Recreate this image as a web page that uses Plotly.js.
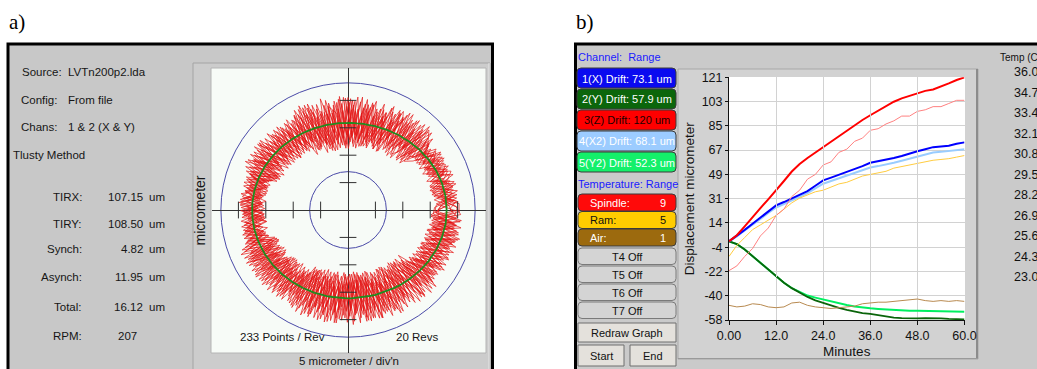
<!DOCTYPE html>
<html><head><meta charset="utf-8">
<script src="https://cdn.plot.ly/plotly-3.0.1.min.js"></script>
<style>html,body{margin:0;padding:0;background:#fff;}#chart{width:1037px;height:369px;}</style>
</head><body><div id="chart"></div>
<script>
// ---------------- DATA ----------------
// Panel a) run-out statistics
const infoLabels = ['Source:', 'Config:', 'Chans:'];
const infoValues = ['LVTn200p2.lda', 'From file', '1 & 2 (X & Y)'];
const methodName = 'Tlusty Method';
const statLabels = ['TIRX:', 'TIRY:', 'Synch:', 'Asynch:', 'Total:', 'RPM:'];
const statValues = ['107.15', '108.50', '4.82', '11.95', '16.12', '207'];
const statUnits  = ['um', 'um', 'um', 'um', 'um', ''];
const pointsPerRevText = '233 Points / Rev';
const revsText = '20 Revs';

// polar trace (micrometer): mean orbit radius every 4 degrees (0..356)
const meanRadius = [
 18.00,17.95,17.97,17.86,17.84,17.69,17.62,17.44,17.35,17.15,17.06,16.86,16.77,16.58,16.50,16.33,16.27,16.12,16.09,15.97,15.97,15.89,15.92,
 15.88,15.93,15.92,16.00,16.01,16.12,16.15,16.28,16.33,16.47,16.54,16.69,16.76,16.91,16.98,17.13,17.18,17.31,17.34,17.44,17.44,17.51,17.48,
 17.50,17.45,17.45,17.36,17.34,17.22,17.18,17.05,17.00,16.86,16.80,16.66,16.61,16.48,16.44,16.32,16.30,16.20,16.19,16.12,16.13,16.09,
 16.12,16.10,16.17,16.17,16.28,16.31,16.44,16.50,16.65,16.73,16.89,16.98,17.16,17.25,17.42,17.50,17.66,17.72,17.85,17.88,17.98,17.97
];
// raw revolutions: deviation from the mean orbit (micrometer), same angles
const revA = [1.2,-1.8,2.1,-0.6,1.5,-2.4,0.9,-1.3,2.6,-1.9, 3.1,-2.7,4.2,-1.5,2.8,-3.6,1.9,-4.1,3.3,-2.2, 4.5,-3.0,2.4,-4.6,3.8,-1.7,4.9,-3.3,2.1,-3.9, 3.4,-2.5,1.6,-3.7,2.9,-1.4,3.5,-2.8,2.2,-3.0, 1.8,-2.2,1.1,-1.6,2.4,-0.8,1.9,-2.5,1.3,-1.7, 2.6,-3.4,3.0,-1.9,3.8,-2.7,1.5,-3.5,2.9,-2.1, 4.1,-3.6,2.7,-4.8,3.2,-2.0,4.6,-3.9,1.8,-4.3, 3.7,-2.4,4.4,-3.1,2.0,-4.5,3.6,-1.8,4.0,-3.3, 2.8,-2.1,3.3,-1.4,2.5,-2.9,1.7,-2.3,2.0,-1.5];
const revB = [-1.5,2.2,-0.8,1.7,-2.3,1.0,-1.9,2.5,-1.2,1.6, -2.9,3.5,-1.8,4.0,-3.2,2.3,-4.4,2.9,-2.0,3.8, -4.2,2.6,-3.5,4.7,-2.2,3.9,-4.8,1.9,-3.6,4.3, -2.6,3.6,-1.9,2.8,-3.4,1.7,-2.7,3.2,-1.5,2.4, -2.0,1.5,-2.3,0.9,-1.8,2.1,-1.0,1.7,-2.4,1.2, -3.1,2.4,-2.8,3.7,-1.6,3.0,-3.8,2.2,-2.6,3.4, -4.5,3.0,-2.3,4.4,-3.7,2.5,-4.0,3.6,-2.9,4.6, -3.2,4.1,-2.6,3.4,-4.3,2.1,-3.5,4.5,-2.2,3.0, -2.4,2.9,-1.6,2.2,-3.0,1.8,-2.5,2.7,-1.3,2.0];
const revC = [0.6,1.9,-1.4,-2.2,1.1,2.4,-0.7,1.5,-2.0,0.8, 2.2,3.9,-2.5,-3.8,1.4,4.3,-2.9,3.0,-1.6,-4.0, 3.6,-2.1,4.4,-4.1,1.8,3.3,-3.8,-2.4,4.6,-1.5, 2.0,-3.2,2.7,-1.1,3.6,-2.9,1.2,-3.3,2.5,-1.8, 1.4,-1.9,0.7,2.0,-1.5,1.6,-2.2,0.5,1.9,-1.1, 3.3,-1.8,2.5,-3.6,1.2,-2.8,3.9,-1.4,2.3,-3.5, 2.9,-4.2,4.0,-1.6,3.5,-4.7,2.2,-3.0,4.8,-2.6, 4.3,-3.5,1.7,-4.0,3.8,-2.6,2.9,-4.4,1.9,-3.7, 2.2,-1.9,2.7,-2.6,1.3,-1.7,2.9,-2.0,1.6,-2.8];
const revD = [-0.9,1.4,-2.1,1.8,-1.1,0.7,2.0,-1.6,1.3,-2.3, -3.5,2.0,-1.7,3.3,-4.0,3.7,-2.4,1.6,-3.1,4.1, -2.8,4.8,-3.1,2.3,-4.5,3.1,-2.0,4.2,-3.7,2.8, -3.0,2.1,-2.4,3.4,-1.3,2.6,-3.6,1.9,-2.9,3.1, -1.6,2.3,-1.2,1.4,-2.1,0.6,-1.7,2.2,-0.9,1.8, -2.4,3.6,-3.3,1.7,-2.6,3.9,-1.9,3.1,-3.6,2.0, -3.8,2.1,-4.6,3.3,-2.5,4.3,-3.1,2.4,-4.4,3.7, -4.1,2.8,-3.0,4.6,-1.9,3.5,-4.2,2.6,-3.4,4.0, -1.8,2.5,-2.9,1.6,-2.2,3.1,-1.4,2.3,-2.6,1.5];
const revE = [2.0,-0.5,1.3,-2.5,0.4,1.8,-1.6,2.3,-0.9,-1.8, 1.9,-3.3,3.6,-2.1,4.5,-1.3,3.4,-3.7,2.6,-2.8, 2.9,-4.3,3.7,-1.9,4.1,-3.4,2.7,-4.9,3.0,-2.3, 2.8,-1.6,3.1,-2.2,1.9,-3.5,2.4,-1.2,3.3,-2.6, 0.9,-2.1,1.7,-1.3,2.2,-1.9,0.8,-1.4,2.3,-2.0, 2.1,-2.9,3.5,-2.2,2.8,-3.7,1.6,-2.5,3.7,-1.6, 3.4,-2.7,4.5,-3.5,1.9,-4.1,3.8,-2.1,4.2,-3.2, 2.5,-4.6,3.3,-2.0,4.7,-3.1,2.1,-3.9,3.6,-2.5, 3.0,-1.2,2.0,-2.7,2.4,-1.5,3.2,-2.2,1.1,-2.4];
const revF = [-2.2,0.9,-1.0,2.4,-1.7,1.2,-2.5,0.6,1.9,-1.4, -2.3,4.4,-3.0,2.5,-1.9,3.8,-3.4,2.1,-4.3,3.2, -3.3,2.2,-4.7,3.6,-2.6,4.5,-3.2,2.9,-4.0,3.5, -1.8,2.9,-3.3,2.0,-2.7,3.7,-1.6,2.8,-3.4,1.6, -1.3,1.1,-2.2,1.9,-0.9,1.6,-2.3,1.3,-1.5,2.1, -3.4,2.3,-1.7,3.3,-3.0,2.0,-3.5,2.7,-1.8,3.6, -2.7,4.7,-3.4,2.6,-4.5,3.2,-2.3,4.4,-3.6,2.4, -3.6,2.3,-4.2,3.1,-2.4,4.3,-3.3,1.7,-4.5,2.9, -2.7,1.4,-2.3,3.0,-1.7,2.4,-3.0,1.5,-2.1,2.6];
const revG = [1.7,-0.8,2.3,-1.9,0.5,-1.2,1.9,-2.4,1.0,-0.6, 2.6,-4.2,1.8,-2.9,3.9,-1.6,4.4,-2.3,3.1,-3.7, 1.9,-3.7,4.6,-2.8,3.4,-4.9,2.2,-3.1,4.3,-2.0, 3.1,-1.7,2.4,-3.4,1.5,-2.3,3.7,-2.6,1.8,-3.2, 2.2,-1.3,1.6,-2.4,1.0,-1.7,2.1,-0.6,1.4,-2.2, 3.0,-2.2,1.4,-3.3,3.6,-2.4,2.7,-3.9,1.8,-2.7, 2.3,-4.4,3.9,-2.8,4.7,-3.3,1.6,-4.0,3.1,-4.6, 4.5,-2.9,3.8,-1.6,3.0,-4.1,4.2,-2.7,2.4,-4.6, 1.9,-3.0,2.4,-1.1,3.1,-2.2,1.5,-2.8,2.6,-1.9];
const revH = [-1.1,2.0,-2.4,1.3,-0.7,1.9,-1.5,0.9,-2.2,1.6, -4.3,2.8,-2.2,3.6,-2.7,4.2,-1.5,3.3,-3.9,2.4, -3.6,4.0,-2.5,4.9,-3.8,2.0,-4.4,3.6,-1.9,4.5, -2.2,3.3,-1.4,2.6,-3.6,2.2,-1.8,3.5,-2.8,2.0, -2.4,1.2,-1.5,2.3,-1.1,1.8,-2.0,0.9,-1.6,2.4, -2.7,3.1,-3.7,2.3,-1.5,3.4,-2.2,3.8,-3.0,1.6, -4.2,3.5,-2.1,4.6,-3.0,2.7,-4.7,3.9,-2.4,3.2, -2.6,4.4,-3.8,2.2,-4.6,3.0,-2.3,4.1,-3.6,2.7, -3.1,1.6,-2.0,2.8,-1.3,2.2,-2.9,1.8,-2.4,1.1];
const revI = [0.4,-2.1,1.6,-1.0,2.4,-1.8,1.1,-0.5,2.2,-1.3, 3.7,-1.9,2.4,-4.4,3.0,-2.6,4.0,-3.2,1.7,-4.1, 4.8,-2.3,3.0,-4.0,2.5,-3.6,4.1,-2.7,3.5,-4.6, 1.4,-2.8,3.5,-1.9,2.3,-3.1,2.9,-1.6,3.6,-2.4, 1.6,-2.3,0.8,-1.5,2.0,-2.2,1.5,-1.1,1.8,-0.7, 3.8,-1.5,2.9,-3.0,2.0,-3.8,3.2,-2.1,1.7,-3.1, 4.4,-3.0,2.5,-4.5,3.7,-2.2,4.0,-3.4,2.8,-4.1, 3.1,-4.3,2.6,-3.3,4.6,-1.9,3.5,-4.0,2.2,-3.0, 2.5,-1.6,3.1,-2.4,1.9,-3.0,2.2,-1.3,2.8,-2.1];
const revJ = [-1.9,1.1,-0.6,2.2,-2.0,1.5,-1.2,2.4,-0.8,1.9, -2.1,3.2,-4.5,2.7,-3.4,1.8,-3.0,4.3,-2.5,3.6, -4.6,3.3,-2.2,4.4,-3.0,3.7,-2.5,4.7,-4.1,2.1, -3.5,1.8,-2.7,3.0,-2.0,3.6,-2.5,1.4,-3.1,2.7, -1.0,2.2,-1.8,1.2,-2.3,1.5,-0.8,2.0,-1.9,1.0, -3.6,2.5,-2.0,3.6,-2.9,1.8,-3.3,2.4,-2.6,3.8, -3.1,4.2,-3.9,2.1,-4.2,4.6,-2.6,3.3,-4.8,2.6, -4.4,3.2,-2.1,4.0,-3.2,2.5,-4.6,3.6,-2.8,4.3, -2.2,2.9,-1.8,1.5,-2.6,2.6,-1.9,3.0,-1.4,2.3];
const revK = [2.3,-1.5,0.8,-2.3,1.7,-0.9,2.0,-1.4,0.7,-2.0, 1.5,-3.9,4.1,-2.5,3.2,-4.3,2.2,-2.9,4.4,-1.7, 3.9,-2.6,4.5,-3.5,2.0,-4.2,3.3,-2.1,4.9,-3.4, 2.6,-3.3,1.9,-2.6,3.3,-1.5,2.1,-3.7,1.7,-2.2, 2.0,-1.1,2.3,-1.8,0.7,-2.1,1.2,-1.6,2.2,-1.2, 1.9,-3.2,2.6,-1.8,3.4,-2.5,3.7,-1.7,2.5,-3.3, 3.6,-4.0,2.4,-3.2,4.5,-2.9,3.1,-4.4,2.3,-3.8, 4.1,-2.2,3.6,-4.4,2.8,-3.5,1.8,-4.2,4.5,-2.6, 2.7,-2.5,1.4,-2.9,2.2,-1.6,2.8,-2.4,1.9,-1.7];
const revL = [-0.7,1.7,-2.2,0.9,-1.5,2.3,-1.9,1.2,-0.8,2.1, -3.8,2.6,-2.0,4.5,-2.6,3.2,-4.2,1.9,-3.3,2.8, -2.4,4.2,-3.9,2.7,-4.8,2.4,-3.5,4.0,-2.3,3.8, -2.9,2.4,-3.6,1.7,-2.3,3.2,-1.9,2.6,-3.5,1.9, -1.8,1.6,-1.0,2.2,-1.4,0.8,-2.4,1.7,-1.1,1.5, -2.3,3.7,-2.8,2.1,-3.6,2.9,-1.7,3.4,-3.0,2.2, -4.1,2.9,-3.6,4.3,-2.2,3.7,-4.4,2.3,-3.3,4.5, -3.3,4.5,-2.4,3.8,-4.0,2.2,-3.7,4.4,-2.0,3.4, -2.6,2.0,-3.0,1.3,-2.4,2.7,-1.6,2.1,-2.8,1.7];
const gridCircles = [7.0, 23.2];          // micrometer
const crossTicks = [-20,-15,-10,-5,5,10,15,20]; // 5 micrometer / div'n

// Panel b) drift
const channelLabels = ['1(X) Drift: 73.1 um','2(Y) Drift: 57.9 um','3(Z) Drift: 120 um','4(X2) Drift: 68.1 um','5(Y2) Drift: 52.3 um'];
const tempNames  = ['Spindle:', 'Ram:', 'Air:'];
const tempRanges = ['9', '5', '1'];
const offChannels = ['T4 Off', 'T5 Off', 'T6 Off', 'T7 Off'];
const minutes = [0,2,4,6,8,10,12,14,16,18,20,22,24,26,28,30,32,34,36,38,40,42,44,46,48,50,52,54,56,58,60];
const driftX  = [0,4,8.5,13,17.5,22,26.5,29,31.5,34,37,41,45,47,49,51,53,55.5,58,59,60,61.5,63,65,66.5,68,69.5,70,70.5,72,73];
const driftY  = [0,-2,-6,-11,-16,-21,-26,-30.5,-34.5,-38,-41,-43.5,-45.5,-47.5,-49,-50.5,-52,-53,-53.5,-54.5,-55.5,-56.2,-56.6,-56.8,-56.8,-56.6,-56.5,-56.8,-57.2,-57.4,-57.5];
const driftZ  = [0,4.5,11,18,24.5,31,37.5,44.5,51.5,57,61.5,65.5,69.5,74,78,82,86,89.5,93,96.5,100,103,105.5,107.5,109.5,111,112,114,116.5,119,121];
const driftX2 = [0,3.6,8,12,16.5,21,25,27.5,30,32.5,35.5,39,42.5,44.5,46.5,48.5,50.5,52.5,54.5,55.5,56.5,58,59.5,61,62.5,64,65.5,66,66.5,67.5,68];
const driftY2 = [0,-2,-6,-11,-16,-21,-26,-30.5,-34.5,-37.5,-40,-41.5,-43,-44.5,-46,-47,-48,-48.8,-49.4,-49.8,-50.2,-50.6,-51,-51.1,-51.1,-51.2,-51.3,-51.4,-51.6,-51.8,-51.9];
const tempSpindle = [23.4,23.7,24.3,24.8,25.6,26.1,26.9,27.3,28.1,28.5,29.2,29.5,30.1,30.3,30.9,31.1,31.6,31.8,32.3,32.4,32.7,32.9,33.2,33.2,33.5,33.6,33.8,33.8,34.0,34.2,34.2];
const tempRam     = [24.3,25.0,25.5,26.0,26.3,26.6,26.9,27.3,27.7,28.0,28.2,28.4,28.5,28.7,28.9,29.0,29.2,29.4,29.5,29.6,29.7,29.9,30.0,30.1,30.2,30.3,30.4,30.45,30.5,30.6,30.7];
const tempAir     = [21.2,21.1,21.15,21.3,21.25,21.1,21.05,21.1,21.35,21.4,21.2,21.1,21.05,21.0,21.05,21.1,21.15,21.3,21.35,21.4,21.4,21.45,21.5,21.55,21.6,21.5,21.45,21.5,21.45,21.5,21.45];
const dispTickVals = [121,103.1,85.2,67.3,49.4,31.5,13.6,-4.3,-22.2,-40.1,-58];
const dispTickText = ['121','103','85','67','49','31','14','-4','-22','-40','-58'];
const minuteTickVals = [0,12,24,36,48,60];
const minuteTickText = ['0.00','12.0','24.0','36.0','48.0','60.0'];
const tempTickVals = [36.0,34.7,33.4,32.1,30.8,29.5,28.2,26.9,25.6,24.3,23.0];

// ---------------- HELPERS ----------------
const W = 1037, H = 369;
const FONT = 'Liberation Sans, Arial, sans-serif';
const px = v => v / W;
const py = v => 1 - v / H;
const shapes = [];
const annotations = [];
function rect(x0, y0, x1, y1, fill, lc, lw) {
  shapes.push({type:'rect', xref:'paper', yref:'paper', x0:px(x0), x1:px(x1), y0:py(y1), y1:py(y0),
    fillcolor:fill, line:{color:lc || 'rgba(0,0,0,0)', width:lw || 0}, layer:'below'});
}
function seg(x0, y0, x1, y1, c, w) {
  shapes.push({type:'line', xref:'paper', yref:'paper', x0:px(x0), x1:px(x1), y0:py(y0), y1:py(y1),
    line:{color:c, width:w}, layer:'below'});
}
function rrect(x0, y0, x1, y1, r, fill, lc, lw) {
  const X0 = px(x0), X1 = px(x1), YT = py(y0), YB = py(y1), rx = r / W, ry = r / H;
  const p = `M${X0+rx},${YT} L${X1-rx},${YT} Q${X1},${YT} ${X1},${YT-ry} L${X1},${YB+ry} Q${X1},${YB} ${X1-rx},${YB} ` +
            `L${X0+rx},${YB} Q${X0},${YB} ${X0},${YB+ry} L${X0},${YT-ry} Q${X0},${YT} ${X0+rx},${YT} Z`;
  shapes.push({type:'path', xref:'paper', yref:'paper', path:p, fillcolor:fill, line:{color:lc, width:lw}, layer:'below'});
}
function ann(text, x, y, anchor, size, color, extra) {
  annotations.push(Object.assign({text:text, xref:'paper', yref:'paper', x:px(x), y:py(y), xanchor:anchor || 'left',
    yanchor:'middle', showarrow:false, borderpad:0, font:{family:FONT, size:size || 11.5, color:color || '#161616'}}, extra || {}));
}

// ---------------- PANELS / FRAMES ----------------
rect(8, 44, 492.5, 385, '#c8c8c8', '#000000', 3);
rect(575.5, 44, 1050, 385, '#cacaca', '#000000', 3);
// panel a plot frame
rect(193, 63, 490, 385, '#cccccc', '#a4a4a4', 1);
seg(489, 63, 489, 369, '#e6e6e6', 1);
rect(211, 68, 486, 353, '#f7fbf7', '#b4b4b4', 1);
// panel b plot frame
rect(678, 69, 978, 359, '#d2d2d2', '#a8a8a8', 1);
seg(977, 69, 977, 359, '#8c8c8c', 2);
seg(678, 358.5, 978, 358.5, '#9a9a9a', 1);
rect(729, 77, 965, 320, '#ffffff', null, 0);

// ---------------- PANEL a) TEXT ----------------
ann('a)', 8, 22, 'left', 21, '#000', {font:{family:'Liberation Serif, Times New Roman, serif', size:21, color:'#000'}});
ann('b)', 575, 22, 'left', 21, '#000', {font:{family:'Liberation Serif, Times New Roman, serif', size:21, color:'#000'}});
const infoRight = [63, 57.5, 58], infoY = [72, 100, 127];
infoLabels.forEach((t, i) => { ann(t, infoRight[i], infoY[i], 'right'); ann(infoValues[i], 66.5, infoY[i]); });
ann(methodName, 12, 155);
const statY = [197, 224, 249, 277, 307, 336];
statLabels.forEach((t, i) => {
  ann(t, 83, statY[i], 'right');
  if (i < 5) { ann(statValues[i], 143.5, statY[i], 'right'); ann(statUnits[i], 148, statY[i], 'left'); }
  else { ann(statValues[i], 127, statY[i], 'center'); }
});
ann(pointsPerRevText, 282, 337, 'center');
ann(revsText, 417, 337, 'center');

// ---------------- PANEL b) CONTROLS ----------------
ann('Channel:  Range', 577, 57, 'left', 11, '#1a1aff');
const chanFill = ['#0a0af0', '#0b660b', '#ff0000', '#9cccff', '#14f06a'];
const chanText = ['#ffffff', '#ffffff', '#1a0000', '#ffffff', '#ffffff'];
channelLabels.forEach((t, i) => {
  const y0 = 68 + i * 21;
  rrect(577, y0, 676, y0 + 20, 4, chanFill[i], '#3a3a3a', 1);
  ann(t, 626.5, y0 + 10.5, 'center', 11, chanText[i]);
});
ann('Temperature: Range', 577, 184, 'left', 11, '#1a1aff');
const tFill = ['#ff0a0a', '#ffcc00', '#9c6a0e'];
const tText = ['#ffffff', '#111111', '#ffffff'];
tempNames.forEach((t, i) => {
  const y0 = 194 + i * 17.5;
  rrect(578, y0, 676, y0 + 17, 4, tFill[i], '#3a3a3a', 1);
  ann(t, 589, y0 + 8.5, 'left', 11, tText[i]);
  ann(tempRanges[i], 667, y0 + 8.5, 'right', 11, tText[i]);
});
offChannels.forEach((t, i) => {
  const y0 = 248 + i * 18;
  rrect(578, y0, 676, y0 + 16.5, 4, '#d4d4d4', '#7a7a7a', 1);
  ann(t, 627, y0 + 8.5, 'center', 11, '#111');
});
rect(578, 323, 676, 342, '#e4e1dc', '#6e6e6e', 1);
ann('Redraw Graph', 627, 332.5, 'center', 11, '#111');
rect(578, 345, 624, 366, '#e4e1dc', '#6e6e6e', 1);
ann('Start', 601, 355.5, 'center', 11, '#111');
rect(630, 345, 676, 366, '#e4e1dc', '#6e6e6e', 1);
ann('End', 653, 355.5, 'center', 11, '#111');
ann('Temp (C)', 999, 57, 'left', 10, '#111');

// ---------------- POLAR ORBIT (cartesian) ----------------
const revs = [revA, revB, revC, revD, revE, revF, revG, revH, revI, revJ, revK, revL];
const redX = [], redY = [];
revs.forEach((rev, k) => {
  rev.forEach((d, i) => {
    const th = (i * 4 + k * 4 / revs.length) * Math.PI / 180;
    const r = meanRadius[i] + d;
    redX.push(r * Math.cos(th)); redY.push(r * Math.sin(th));
  });
});
redX.push(redX[0]); redY.push(redY[0]);
const grnX = [], grnY = [];
meanRadius.forEach((r, i) => { const th = i * 4 * Math.PI / 180; grnX.push(r * Math.cos(th)); grnY.push(r * Math.sin(th)); });
grnX.push(grnX[0]); grnY.push(grnY[0]);

gridCircles.forEach(r => shapes.push({type:'circle', xref:'x', yref:'y', x0:-r, x1:r, y0:-r, y1:r,
  line:{color:'#4a4aa8', width:1}, layer:'below'}));

const traces = [
  {type:'scatter', mode:'lines', x:redX, y:redY, xaxis:'x', yaxis:'y', line:{color:'#e41414', width:0.7}, hoverinfo:'skip'},
  {type:'scatter', mode:'lines', x:grnX, y:grnY, xaxis:'x', yaxis:'y', line:{color:'#1f8c1f', width:1.8}, hoverinfo:'skip'},
  {type:'scatter', mode:'markers', x:crossTicks, y:crossTicks.map(() => 0), xaxis:'x', yaxis:'y',
    marker:{symbol:'line-ns', size:12, line:{color:'#303030', width:1}}, hoverinfo:'skip'},
  {type:'scatter', mode:'markers', x:crossTicks.map(() => 0), y:crossTicks, xaxis:'x', yaxis:'y',
    marker:{symbol:'line-ew', size:12, line:{color:'#303030', width:1}}, hoverinfo:'skip'},
  // temperatures (on temperature scale)
  {type:'scatter', mode:'lines', x:minutes, y:tempAir, xaxis:'x2', yaxis:'y3', line:{color:'#b88a50', width:1}},
  {type:'scatter', mode:'lines', x:minutes, y:tempRam, xaxis:'x2', yaxis:'y3', line:{color:'#ffcc40', width:1}},
  {type:'scatter', mode:'lines', x:minutes, y:tempSpindle, xaxis:'x2', yaxis:'y3', line:{color:'#ff8080', width:1}},
  // drifts
  {type:'scatter', mode:'lines', x:minutes, y:driftY2, xaxis:'x2', yaxis:'y2', line:{color:'#00f060', width:2}},
  {type:'scatter', mode:'lines', x:minutes, y:driftY, xaxis:'x2', yaxis:'y2', line:{color:'#0a640a', width:1.8}},
  {type:'scatter', mode:'lines', x:minutes, y:driftX2, xaxis:'x2', yaxis:'y2', line:{color:'#99ccff', width:2}},
  {type:'scatter', mode:'lines', x:minutes, y:driftX, xaxis:'x2', yaxis:'y2', line:{color:'#0000ff', width:2}},
  {type:'scatter', mode:'lines', x:minutes, y:driftZ, xaxis:'x2', yaxis:'y2', line:{color:'#ff0000', width:2}},
  // carrier for the temperature tick-label axis
  {type:'scatter', mode:'markers', x:[30], y:[30], xaxis:'x2', yaxis:'y4', marker:{opacity:0}, hoverinfo:'skip'}
];

const tickFont = {family:FONT, size:12.5, color:'#111'};
const layout = {
  width:W, height:H, margin:{l:0, r:0, t:0, b:0, pad:0},
  paper_bgcolor:'#ffffff', plot_bgcolor:'rgba(0,0,0,0)', showlegend:false,
  font:{family:FONT, color:'#111'},
  xaxis:{domain:[212/W, 486/W], range:[-24.82, 25.18], anchor:'y', showgrid:false, zeroline:true,
    zerolinecolor:'#333', zerolinewidth:1, showticklabels:false, ticks:'', showline:false, fixedrange:true,
    title:{text:"5 micrometer / div'n", font:{family:FONT, size:11.5, color:'#161616'}, standoff:3}},
  yaxis:{domain:[1-353/H, 1-68/H], range:[-26.09, 25.91], anchor:'x', showgrid:false, zeroline:true,
    zerolinecolor:'#333', zerolinewidth:1, showticklabels:false, ticks:'', showline:false, fixedrange:true,
    title:{text:'micrometer', font:{family:FONT, size:14, color:'#161616'}, standoff:2}},
  xaxis2:{domain:[729/W, 964.5/W], range:[0, 60], anchor:'y2', tickvals:minuteTickVals, ticktext:minuteTickText,
    showgrid:true, gridcolor:'#d2d2d2', gridwidth:1, zeroline:false, showline:true, linecolor:'#111', linewidth:1,
    ticks:'outside', ticklen:4, tickcolor:'#111', tickfont:tickFont,
    title:{text:'Minutes', font:{family:FONT, size:13.5, color:'#111'}, standoff:4}},
  yaxis2:{domain:[1-320/H, 1-77.3/H], range:[-58, 121], anchor:'x2', tickvals:dispTickVals, ticktext:dispTickText,
    showgrid:true, gridcolor:'#d2d2d2', gridwidth:1, zeroline:false, showline:true, linecolor:'#111', linewidth:1,
    ticks:'outside', ticklen:3, tickcolor:'#111', tickfont:tickFont,
    title:{text:'Displacement micrometer', font:{family:FONT, size:13.5, color:'#111'}, standoff:3}},
  yaxis3:{overlaying:'y2', range:[20.27, 35.66], visible:false},
  yaxis4:{domain:[1-277/H, 1-72/H], range:[23, 36], anchor:'free', position:1013/W, side:'right',
    tickvals:tempTickVals, ticktext:tempTickVals.map(v => v.toFixed(1)), showgrid:false, zeroline:false,
    showline:false, ticks:'', tickfont:{family:FONT, size:12.5, color:'#111'}},
  shapes:shapes, annotations:annotations
};
Plotly.newPlot('chart', traces, layout, {staticPlot:true, displayModeBar:false});
</script>
</body></html>
